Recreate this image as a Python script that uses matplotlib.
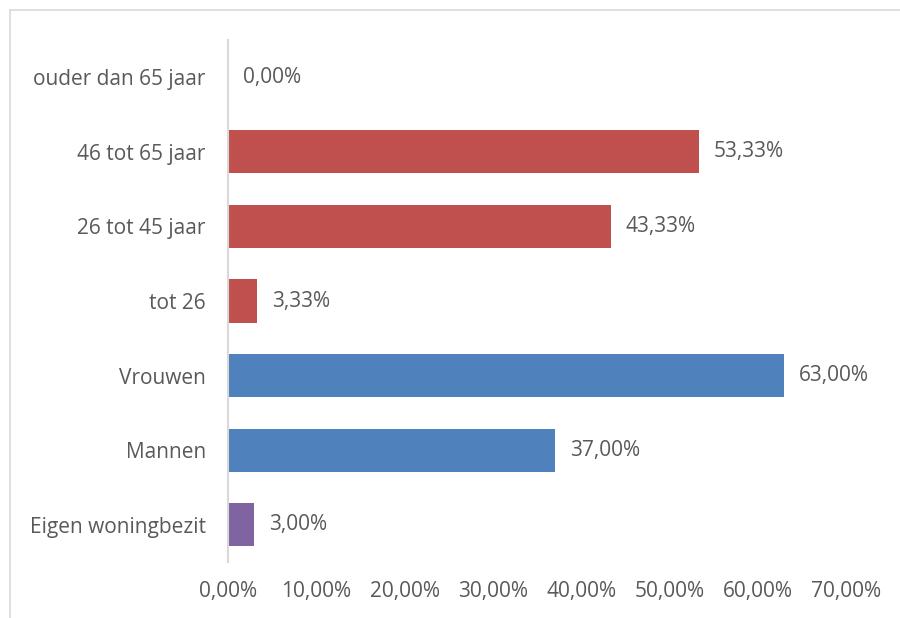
import matplotlib
matplotlib.use("Agg")
import matplotlib.pyplot as plt
from matplotlib.lines import Line2D

categories = ["Eigen woningbezit", "Mannen", "Vrouwen", "tot 26", "26 tot 45 jaar", "46 tot 65 jaar", "ouder dan 65 jaar"]
values = [3.00, 37.00, 63.00, 3.33, 43.33, 53.33, 0.00]
colors = ["#8064A2", "#4F81BD", "#4F81BD", "#C0504D", "#C0504D", "#C0504D", "#C0504D"]
xticks = [0, 10, 20, 30, 40, 50, 60, 70]

plt.rcParams['font.family'] = ['Open Sans', 'DejaVu Sans']
text_color = "#595959"
fs = 15

fig = plt.figure(figsize=(9, 6.18), dpi=100)
ax = fig.add_axes([228/900, 1-562/618, (846-228)/900, (562-40)/618])

y = list(range(len(categories)))
ax.barh(y, values, height=0.58, color=colors)
for yi, v in zip(y, values):
    ax.text(v + 1.7, yi, f"{v:.2f}%".replace(".", ","), va="center", ha="left",
            fontsize=fs, color=text_color)

ax.set_xlim(0, 70)
ax.set_ylim(-0.5, len(categories) - 0.5)
ax.set_yticks(y)
ax.set_yticklabels(categories, fontsize=fs, color=text_color)
ax.set_xticks(xticks)
ax.set_xticklabels([f"{t:.2f}%".replace(".", ",") for t in xticks], fontsize=fs, color=text_color)
ax.tick_params(axis="both", length=0)
ax.tick_params(axis="y", pad=16)
ax.tick_params(axis="x", pad=14)
for s in ["top", "right", "bottom"]:
    ax.spines[s].set_visible(False)
ax.spines["left"].set_color("#D9D9D9")
ax.spines["left"].set_linewidth(1.5)

fig.add_artist(Line2D([10/900, 1], [1-10/618, 1-10/618], transform=fig.transFigure, color="#D9D9D9", lw=1.2))
fig.add_artist(Line2D([10/900, 10/900], [0, 1-10/618], transform=fig.transFigure, color="#D9D9D9", lw=1.2))

fig.savefig("out.png", dpi=100)
